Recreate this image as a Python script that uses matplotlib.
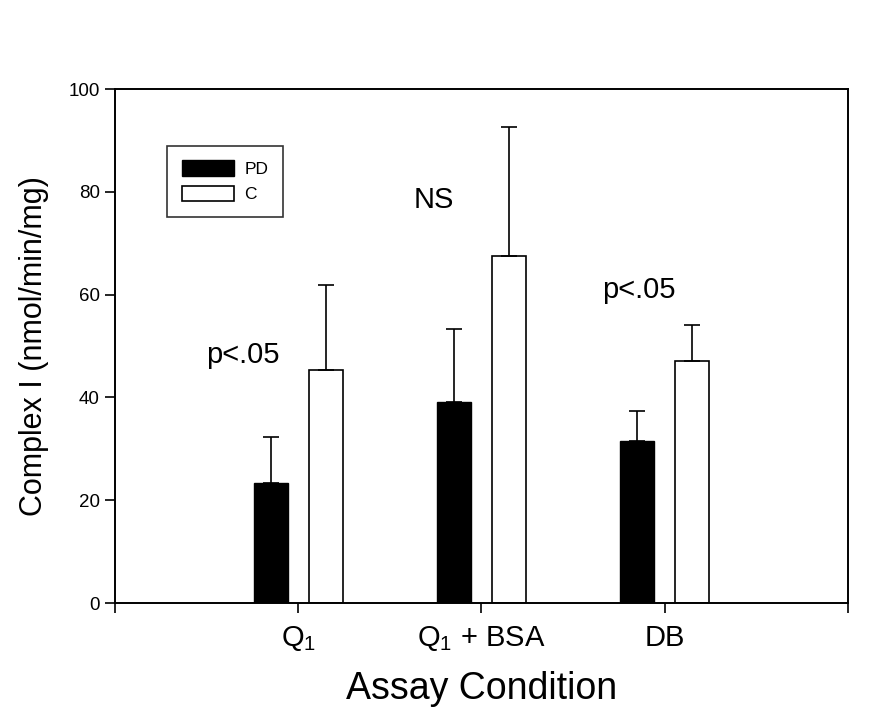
import numpy as np
import matplotlib
matplotlib.use("Agg")
import matplotlib.pyplot as plt

plt.rcParams['font.family'] = ['Liberation Sans', 'DejaVu Sans']
plt.rcParams['mathtext.default'] = 'regular'

# data
conditions = ["Q$_1$", "Q$_1$ + BSA", "DB"]
pd_mean = [23.4, 39.2, 31.6]
pd_err = [8.8, 14.2, 5.8]
c_mean = [45.3, 67.6, 47.1]
c_err = [16.6, 25.0, 6.9]
notes = ["p<.05", "NS", "p<.05"]
note_y = [48.2, 78.4, 60.9]
note_dx = [-0.30, -0.26, -0.14]

x = np.arange(1, len(conditions) + 1)
w = 0.185
off = 0.149

fig = plt.figure(figsize=(8.79, 7.14), dpi=100)
ax = fig.add_axes([115 / 879, 1 - 603 / 714, 733 / 879, 514 / 714])

ax.bar(x - off, pd_mean, w, color="black", edgecolor="black", linewidth=1, label="PD")
ax.bar(x + off, c_mean, w, color="white", edgecolor="black", linewidth=1.2, label="C")
ax.errorbar(x - off, pd_mean, yerr=[np.zeros(3), pd_err], fmt="none",
            ecolor="black", elinewidth=1.2, capsize=5.5, capthick=1.2)
ax.errorbar(x + off, c_mean, yerr=[np.zeros(3), c_err], fmt="none",
            ecolor="black", elinewidth=1.2, capsize=5.5, capthick=1.2)

for xi, dx, txt, yi in zip(x, note_dx, notes, note_y):
    ax.text(xi + dx, yi, txt, fontsize=21, ha="center", va="center")

ax.set_xlim(0, 4)
ax.set_ylim(0, 100)
ax.set_xticks([0, 1, 2, 3, 4])
ax.set_xticklabels([""] + conditions + [""], fontsize=21)
ax.set_yticks(np.arange(0, 101, 20))
ax.tick_params(axis="y", direction="out", length=7, width=1.2, labelsize=13.5, pad=4)
ax.tick_params(axis="x", direction="out", length=7, width=1.2, pad=8)
for s in ax.spines.values():
    s.set_linewidth(1.4)

ax.set_ylabel("Complex I (nmol/min/mg)", fontsize=22, labelpad=14)
ax.set_xlabel("Assay Condition", fontsize=27, labelpad=13)

leg = ax.legend(loc="upper left", bbox_to_anchor=(0.071, 0.89), fontsize=12.5,
                frameon=True, fancybox=False, edgecolor="black", borderaxespad=0,
                handlelength=3.0, handleheight=1.0, borderpad=0.85, labelspacing=0.5,
                handletextpad=0.6)
leg.get_frame().set_linewidth(1.2)

fig.savefig("out.png", dpi=100)
